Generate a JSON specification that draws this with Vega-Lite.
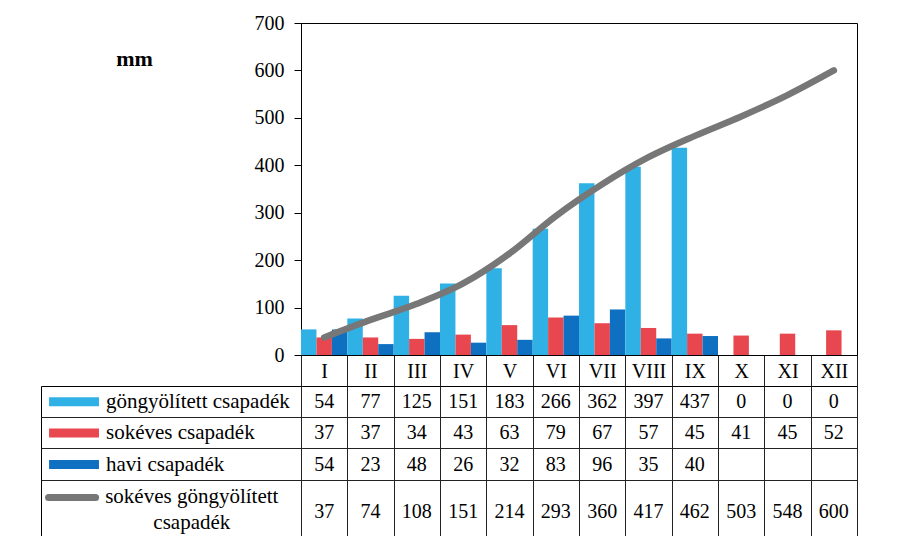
{
  "$schema": "https://vega.github.io/schema/vega-lite/v6.json",
  "padding": {"left": 40, "top": 12, "right": 0, "bottom": 0},
  "background": "white",
  "columns": 2,
  "spacing": {"row": 31, "column": 0},
  "bounds": "flush",
  "align": "each",
  "datasets": {
    "havi_adatok": [
      {"honap": "I", "gong": 54, "sok": 37, "havi": 54, "sokgong": 37},
      {"honap": "II", "gong": 77, "sok": 37, "havi": 23, "sokgong": 74},
      {"honap": "III", "gong": 125, "sok": 34, "havi": 48, "sokgong": 108},
      {"honap": "IV", "gong": 151, "sok": 43, "havi": 26, "sokgong": 151},
      {"honap": "V", "gong": 183, "sok": 63, "havi": 32, "sokgong": 214},
      {"honap": "VI", "gong": 266, "sok": 79, "havi": 83, "sokgong": 293},
      {"honap": "VII", "gong": 362, "sok": 67, "havi": 96, "sokgong": 360},
      {"honap": "VIII", "gong": 397, "sok": 57, "havi": 35, "sokgong": 417},
      {"honap": "IX", "gong": 437, "sok": 45, "havi": 40, "sokgong": 462},
      {"honap": "X", "gong": 0, "sok": 41, "havi": null, "sokgong": 503},
      {"honap": "XI", "gong": 0, "sok": 45, "havi": null, "sokgong": 548},
      {"honap": "XII", "gong": 0, "sok": 52, "havi": null, "sokgong": 600}
    ],
    "sorok": [
      {"key": "gong", "nev": "göngyölített csapadék"},
      {"key": "sok", "nev": "sokéves csapadék"},
      {"key": "havi", "nev": "havi csapadék"},
      {"key": "sokgong", "nev": "sokéves göngyölített\ncsapadék"}
    ]
  },
  "concat": [
    {
      "width": 260,
      "height": 332,
      "view": {"stroke": null},
      "data": {"values": [{"t": ""}]},
      "mark": {"type": "text"},
      "encoding": {"text": {"field": "t", "type": "nominal"}}
    },
    {
      "width": 556,
      "height": 332,
      "data": {"name": "havi_adatok"},
      "encoding": {
        "x": {
          "field": "honap", "type": "nominal",
          "scale": {"type": "band", "domain": ["I","II","III","IV","V","VI","VII","VIII","IX","X","XI","XII"], "paddingInner": 0, "paddingOuter": 0},
          "axis": {
            "orient": "bottom", "title": null, "labelAngle": 0,
            "labelFont": "Liberation Serif", "labelFontSize": 20, "labelColor": "black",
            "labelBaseline": "middle", "labelPadding": -15,
            "tickBand": "extent", "tickSize": 31, "tickColor": "#222",
            "domain": true, "domainColor": "black", "grid": false
          }
        },
        "y": {
          "field": "mm", "type": "quantitative",
          "scale": {"domain": [0, 700], "nice": false},
          "axis": {
            "values": [0, 100, 200, 300, 400, 500, 600, 700],
            "title": "mm", "titleAngle": 0, "titleX": -167, "titleY": 35,
            "titleFont": "Liberation Serif", "titleFontSize": 22, "titleFontWeight": "bold",
            "titleColor": "black", "titleAlign": "center", "titleBaseline": "middle",
            "labelFont": "Liberation Serif", "labelFontSize": 20, "labelColor": "black",
            "labelPadding": 10, "tickSize": 7, "tickColor": "black",
            "domainColor": "black", "grid": false
          }
        }
      },
      "layer": [
        {
          "transform": [{"fold": ["gong", "sok", "havi"], "as": ["sor", "mm"]}],
          "mark": {"type": "bar"},
          "encoding": {
            "xOffset": {"field": "sor", "type": "nominal", "sort": ["gong", "sok", "havi"], "scale": {"paddingInner": 0, "paddingOuter": 0}},
            "color": {
              "field": "sor", "type": "nominal",
              "scale": {"domain": ["gong", "sok", "havi", "sokgong"], "range": ["#30b1e6", "#e8474f", "#0f70c2", "#7a7a7a"]},
              "legend": null
            }
          }
        },
        {
          "transform": [{"fold": ["sokgong"], "as": ["sor", "mm"]}],
          "mark": {"type": "line", "interpolate": "monotone", "strokeWidth": 6.5, "strokeCap": "round", "color": "#777777"},
          "encoding": {}
        },
        {
          "data": {"values": [{"cim": "Keletnyír"}]},
          "mark": {"type": "text", "font": "Liberation Sans", "fontSize": 31, "fontWeight": "bold", "align": "left", "baseline": "alphabetic", "dx": -6, "color": "#111"},
          "encoding": {
            "x": {"datum": "III", "bandPosition": 0},
            "y": {"datum": 565},
            "text": {"field": "cim", "type": "nominal"}
          }
        }
      ]
    },
    {
      "width": 260,
      "height": 157,
      "data": {"name": "sorok"},
      "encoding": {
        "y": {
          "field": "key", "type": "nominal",
          "scale": {"type": "band", "domain": ["gong", "sok", "havi", "sokgong", "sokgong_2"], "paddingInner": 0, "paddingOuter": 0},
          "axis": {"values": ["sok", "havi", "sokgong"], "bandPosition": 0, "grid": true, "gridColor": "#222", "labels": false, "ticks": false, "domain": false, "title": null}
        }
      },
      "layer": [
        {
          "transform": [{"filter": "datum.key !== 'sokgong'"}],
          "mark": {"type": "rule", "strokeWidth": 9, "strokeCap": "butt"},
          "encoding": {
            "x": {"datum": 0.031, "type": "quantitative", "scale": {"domain": [0, 1]}, "axis": null},
            "x2": {"datum": 0.223},
            "color": {
              "field": "key", "type": "nominal",
              "scale": {"domain": ["gong", "sok", "havi", "sokgong"], "range": ["#30b1e6", "#e8474f", "#0f70c2", "#7a7a7a"]},
              "legend": null
            }
          }
        },
        {
          "transform": [{"filter": "datum.key === 'sokgong'"}],
          "mark": {"type": "rule", "strokeWidth": 7, "strokeCap": "round", "color": "#777777"},
          "encoding": {
            "x": {"datum": 0.029, "type": "quantitative"},
            "x2": {"datum": 0.21},
            "y": {"field": "key", "type": "nominal", "bandPosition": 0.55}
          }
        },
        {
          "transform": [{"filter": "datum.key !== 'sokgong'"}],
          "mark": {"type": "text", "align": "left", "baseline": "middle", "font": "Liberation Serif", "fontSize": 21, "color": "black"},
          "encoding": {
            "x": {"datum": 0.25, "type": "quantitative"},
            "text": {"field": "nev", "type": "nominal"}
          }
        },
        {
          "transform": [{"filter": "datum.key === 'sokgong'"}],
          "mark": {"type": "text", "align": "center", "baseline": "middle", "font": "Liberation Serif", "fontSize": 21, "color": "black", "lineBreak": "\n", "lineHeight": 26},
          "encoding": {
            "x": {"datum": 0.58, "type": "quantitative"},
            "y": {"field": "key", "type": "nominal", "bandPosition": 0.55},
            "text": {"field": "nev", "type": "nominal"}
          }
        }
      ]
    },
    {
      "width": 556,
      "height": 157,
      "data": {"name": "havi_adatok"},
      "transform": [{"fold": ["gong", "sok", "havi", "sokgong"], "as": ["key", "mm"]}],
      "encoding": {
        "x": {
          "field": "honap", "type": "nominal",
          "scale": {"type": "band", "domain": ["I","II","III","IV","V","VI","VII","VIII","IX","X","XI","XII"], "paddingInner": 0, "paddingOuter": 0},
          "axis": {"grid": true, "tickBand": "extent", "gridColor": "#222", "labels": false, "ticks": false, "domain": false, "title": null}
        },
        "y": {
          "field": "key", "type": "nominal",
          "scale": {"type": "band", "domain": ["gong", "sok", "havi", "sokgong", "sokgong_2"], "paddingInner": 0, "paddingOuter": 0},
          "axis": {"values": ["sok", "havi", "sokgong"], "bandPosition": 0, "grid": true, "gridColor": "#222", "labels": false, "ticks": false, "domain": false, "title": null}
        },
        "text": {"field": "mm", "type": "quantitative"}
      },
      "layer": [
        {
          "transform": [{"filter": "datum.key !== 'sokgong' && isValid(datum.mm)"}],
          "mark": {"type": "text", "baseline": "middle", "font": "Liberation Serif", "fontSize": 20, "color": "black"}
        },
        {
          "transform": [{"filter": "datum.key === 'sokgong'"}],
          "mark": {"type": "text", "baseline": "middle", "font": "Liberation Serif", "fontSize": 20, "color": "black"},
          "encoding": {"y": {"field": "key", "type": "nominal", "bandPosition": 1}}
        }
      ]
    }
  ],
  "config": {
    "font": "Liberation Serif",
    "view": {"stroke": "black", "strokeWidth": 1},
    "axis": {"gridOpacity": 1, "labelFont": "Liberation Serif", "titleFont": "Liberation Serif", "labelColor": "black"}
  }
}
